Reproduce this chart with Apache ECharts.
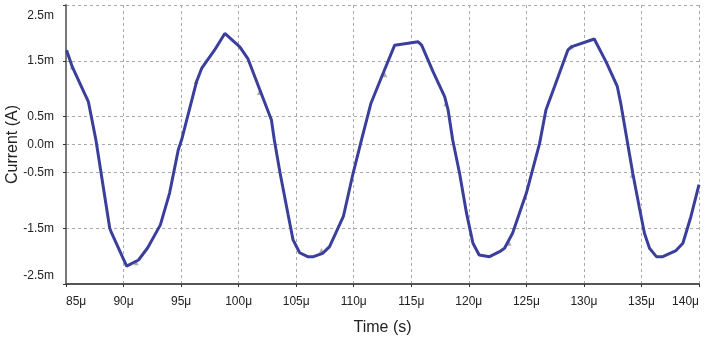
<!DOCTYPE html>
<html><head><meta charset="utf-8">
<script src="https://cdn.jsdelivr.net/npm/echarts@6/dist/echarts.min.js"></script>
<style>html,body{margin:0;padding:0;background:#fff}#c{width:705px;height:346px}</style>
</head><body><div id="c"></div>
<script>
// time in microseconds
const timeUs = [85.05,85.55,86.94,87.2,87.6,88.8,88.97,90.27,91.3,92.1,93.2,94.0,94.75,95.04,96.35,96.8,97.9,98.8,100.1,100.8,101.84,102.85,103.1,103.6,104.3,104.73,105.3,106.0,106.5,107.3,107.9,109.1,109.94,110.67,111.5,112.5,113.56,115.6,115.9,116.9,117.9,118.2,118.6,119.2,119.8,120.36,120.9,121.8,122.67,123.1,123.8,125.0,126.15,126.7,127.45,128.6,128.9,130.9,131.93,132.9,133.2,133.8,134.25,134.8,135.26,135.7,136.3,136.85,138.0,138.6,139.3,140.0];
// current in milliamps
const currentMa = [1.69,1.39,0.77,0.5,0.08,-1.5,-1.59,-2.18,-2.07,-1.85,-1.44,-0.87,-0.1,0.08,1.13,1.37,1.69,1.99,1.75,1.54,0.98,0.44,0.08,-0.51,-1.26,-1.71,-1.94,-2.01,-2.01,-1.95,-1.83,-1.29,-0.52,0.08,0.74,1.25,1.78,1.84,1.78,1.30,0.86,0.62,0.08,-0.52,-1.23,-1.77,-1.98,-2.01,-1.92,-1.86,-1.59,-0.87,0.02,0.62,1.04,1.69,1.75,1.89,1.48,1.04,0.74,0.02,-0.52,-1.11,-1.59,-1.86,-2.01,-2.01,-1.90,-1.77,-1.29,-0.72];
// probe markers
const markerTimeUs = [85.55,96.3,101.8,91.1,107.2,112.7,118.0,123.5,128.9,134.2];
const markerCurrentMa = [1.39,1.13,0.93,-2.12,-1.9,1.25,0.73,-1.77,1.75,-0.55];
const xTicks = [85,90,95,100,105,110,115,120,125,130,135,140];
const yTickLabels = [-2.5,-1.5,-0.5,0,0.5,1.5,2.5];

const chart = echarts.init(document.getElementById('c'), null, {renderer:'canvas'});
const lab = {fontFamily:'"Liberation Sans Narrow","Liberation Sans",Arial,sans-serif', fontSize:12, color:'#222'};
chart.setOption({
  animation:false,
  grid:{left:66,right:6,top:5,bottom:62,containLabel:false,outerBoundsMode:'none'},
  xAxis:{
    type:'value',min:85,max:140,interval:5,
    name:'Time (s)',nameLocation:'middle',nameGap:36,nameMoveOverlap:false,
    nameTextStyle:{fontFamily:'"Liberation Sans",Arial,sans-serif',fontSize:16,color:'#222'},
    axisLine:{onZero:false,lineStyle:{color:'#555',width:2}},
    axisTick:{show:true,length:3,inside:false,lineStyle:{color:'#333'}},
    axisLabel:Object.assign({},lab,{margin:12,alignMinLabel:'left',alignMaxLabel:'right',
      formatter:v=>xTicks.includes(v)?v+'μ':''}),
    splitLine:{show:true,lineStyle:{color:'#aaa',type:[3,3],width:1}}
  },
  yAxis:{
    type:'value',min:-2.5,max:2.5,interval:0.5,
    name:'Current (A)',nameLocation:'middle',nameGap:45,nameMoveOverlap:false,
    nameTextStyle:{fontFamily:'"Liberation Sans",Arial,sans-serif',fontSize:16,color:'#222'},
    axisLine:{show:true,onZero:false,lineStyle:{color:'#777',width:2}},
    axisTick:{show:true,length:3,customValues:yTickLabels,lineStyle:{color:'#333'}},
    axisLabel:Object.assign({},lab,{margin:12,customValues:yTickLabels,
      formatter:v=>{
        const s=v.toFixed(1)+'m';
        if(Math.abs(v-2.5)<1e-9) return '{t|'+s+'}';
        if(Math.abs(v+2.5)<1e-9) return '{b|'+s+'}';
        return s;
      },
      rich:{t:Object.assign({},lab,{padding:[22,0,0,0]}),b:Object.assign({},lab,{padding:[0,0,16,0]})}
    }),
    splitLine:{show:true,lineStyle:{color:'#aaa',type:[3,3],width:1}}
  },
  series:[
    {type:'line',data:timeUs.map((t,i)=>[t,currentMa[i]]),showSymbol:false,symbol:'none',
     lineStyle:{color:'#3b3f9c',width:3},clip:true},
    {type:'scatter',data:markerTimeUs.map((t,i)=>[t,markerCurrentMa[i]]),symbol:'triangle',symbolSize:5,
     itemStyle:{color:'#999'},z:1}
  ]
});
</script></body></html>
